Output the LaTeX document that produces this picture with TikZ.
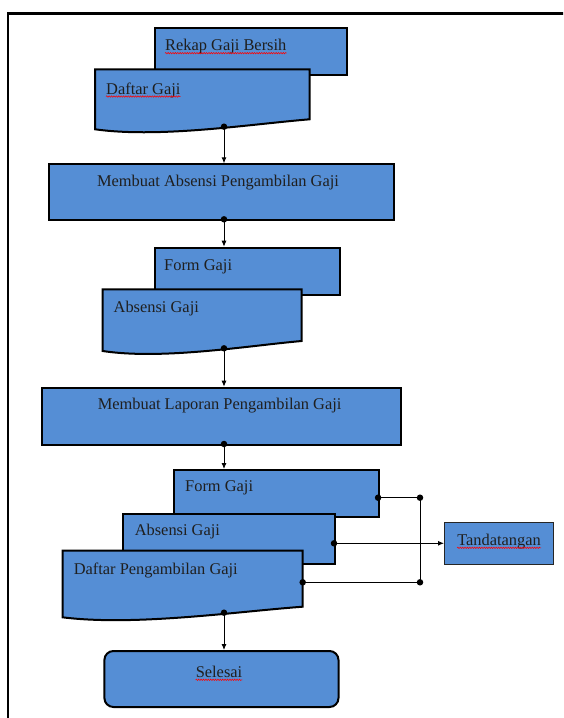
\documentclass[tikz,border=0pt]{standalone}
\usepackage{fontspec}
\setmainfont{Liberation Serif}
\usetikzlibrary{arrows.meta,decorations.pathmorphing}
\definecolor{boxblue}{RGB}{85,142,213}
\newcommand{\mydocpath}[5]{% x0, x1, top, yL, yR
  (#1,#3) -- (#2,#3) -- (#2,#5)
  .. controls ({#2-0.28*(#2-#1)},{#5+5}) and ({#1+0.3*(#2-#1)},{#4+9}) .. (#1,#4) -- cycle}
\begin{document}
\begin{tikzpicture}[x=1pt,y=-1pt,
  shapebox/.style={draw=black, line width=2pt, fill=boxblue, inner sep=0pt, anchor=north west},
  docbox/.style={draw=black, line width=2pt, fill=boxblue, line join=miter},
  lbl/.style={font=\fontsize{16.4}{18}\selectfont, inner sep=0pt, text=black!88},
  conn/.style={line width=0.9pt, -{Latex[length=6pt,width=5pt]}},
  plain/.style={line width=0.9pt},
  dotc/.style={circle, fill=black, inner sep=0pt, minimum size=6.5pt},
  squig/.style={draw=red, line width=0.55pt, decorate, decoration={snake, segment length=2.4pt, amplitude=0.7pt}}
]
\useasboundingbox (0,0) rectangle (563,718);
\clip (0,0) rectangle (563,718);
\fill[white] (0,0) rectangle (563,718);
% outer frame
\draw[line width=2.5pt] (8,730) -- (8,13.3) -- (575,13.3);

% ---- group 1
\node[shapebox, minimum width=192pt, minimum height=47.3pt] (rekap) at (154.4,26.7) {};
\node[lbl, anchor=west] (trekap) at (165,46.7) {Rekap Gaji Bersih};
\path[docbox] \mydocpath{95.2}{309.5}{69.3}{129.3}{119.3};
\node[lbl, anchor=west] (tdg) at (106,90) {Daftar Gaji};
\coordinate (dgdot) at (224,126.7);

\node[shapebox, minimum width=345.4pt, minimum height=56pt] (mabs) at (47.8,163.3) {};
\node[lbl] (tmabs) at (218,182.7) {Membuat Absensi Pengambilan Gaji};
\coordinate (mabsdot) at (224,219.3);

% ---- group 2
\node[shapebox, minimum width=185.6pt, minimum height=47.6pt] (fg2) at (153.7,246.7) {};
\node[lbl, anchor=west] at (164,266.7) {Form Gaji};
\path[docbox] \mydocpath{102.7}{301.6}{289.3}{351}{341};
\node[lbl, anchor=west] at (113.5,308.3) {Absensi Gaji};
\coordinate (ab2dot) at (224,348.3);

\node[shapebox, minimum width=359.8pt, minimum height=57.3pt] (mlap) at (40.6,386.7) {};
\node[lbl] at (219.6,405.7) {Membuat Laporan Pengambilan Gaji};
\coordinate (mlapdot) at (224,444);

% ---- group 3
\node[shapebox, minimum width=205.4pt, minimum height=47pt] (fg3) at (172.7,469) {};
\node[lbl, anchor=west] at (185,488.3) {Form Gaji};
\node[shapebox, minimum width=212pt, minimum height=50.6pt] (ab3) at (122,512.7) {};
\node[lbl, anchor=west] at (134.6,531.7) {Absensi Gaji};
\path[docbox] \mydocpath{62.5}{302.7}{550.7}{617.3}{606.7};
\node[lbl, anchor=west] at (73.6,570) {Daftar Pengambilan Gaji};
\coordinate (dpdot) at (224,612.7);

\node[shapebox, rounded corners=9pt, minimum width=234.1pt, minimum height=56pt] (sel) at (103.4,650) {};
\node[lbl] (tsel) at (219,671.7) {Selesai};

\node[draw=black!85, line width=1.1pt, fill=boxblue, anchor=north west, inner sep=0pt,
      minimum width=109pt, minimum height=42.3pt] (tand) at (444,521.7) {};
\node[lbl] (ttand) at (tand.center) [yshift=2pt] {Tandatangan};

% ---- red spell-check squiggles
\draw[squig] ([yshift=-2.5pt]trekap.base west) -- ([yshift=-2.5pt]trekap.base east);
\draw[squig] ([yshift=-2.5pt]tdg.base west) -- ([yshift=-2.5pt]tdg.base east);
\draw[squig] ([yshift=-2.5pt]ttand.base west) -- ([yshift=-2.5pt]ttand.base east);
\draw[squig] ([yshift=-2.5pt]tsel.base west) -- ([yshift=-2.5pt]tsel.base east);

% ---- connectors
\draw[conn] (dgdot) -- (dgdot |- mabs.north);
\draw[conn] (mabsdot) -- (mabsdot |- fg2.north);
\draw[conn] (ab2dot) -- (ab2dot |- mlap.north);
\draw[conn] (mlapdot) -- (mlapdot |- fg3.north);
\draw[conn] (dpdot) -- (dpdot |- sel.north);

\coordinate (fg3r) at (378.1,497.7);
\coordinate (j1) at (420,497.7);
\coordinate (dpr) at (302.7,582.3);
\coordinate (j2) at (420,582.3);
\coordinate (ab3r) at (334,543.3);
\draw[plain] (fg3r) -- (j1) -- (j2) -- (dpr);
\draw[conn] (ab3r) -- (ab3r -| tand.west);

\foreach \p in {dgdot,mabsdot,ab2dot,mlapdot,dpdot,fg3r,j1,dpr,j2,ab3r}
  \node[dotc] at (\p) {};
\end{tikzpicture}
\end{document}
